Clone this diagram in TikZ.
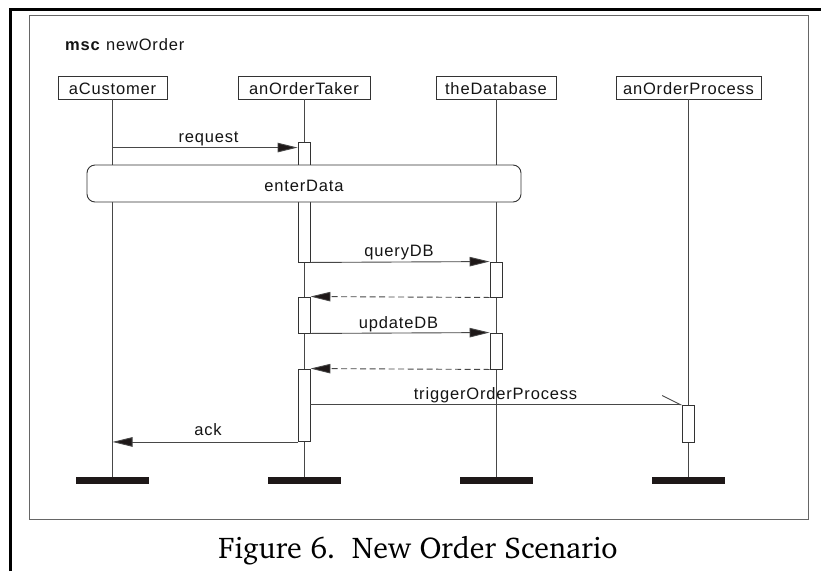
\documentclass[tikz,border=0pt]{standalone}
\usepackage[T1]{fontenc}
\usepackage{fontspec}
\usetikzlibrary{arrows.meta}
\newfontfamily\mscfont{Liberation Sans}[LetterSpace=5.0]
\newcommand\captionfont{\fontencoding{T1}\fontfamily{bch}\fontseries{m}\fontshape{n}\fontsize{30pt}{36pt}\selectfont}
\definecolor{barcol}{RGB}{30,24,24}
\begin{document}
\begin{tikzpicture}[x=1pt,y=-1pt,
  lbl/.style={font={\mscfont\fontsize{16.5pt}{19pt}\selectfont}, text=black!92, inner sep=0pt},
  inst/.style={lbl, draw=black!80, line width=0.9pt, minimum height=23pt, text height=14pt, text depth=0pt},
  life/.style={draw=black!72, line width=0.9pt},
  act/.style={draw=black!80, fill=white, line width=0.9pt, minimum width=12pt, inner sep=0pt},
  endbar/.style={fill=barcol, minimum width=73pt, minimum height=7pt, inner sep=0pt},
  msg/.style={draw=black!72, line width=0.9pt, -{Triangle[length=20pt,width=9.5pt,fill=barcol]}},
  reply/.style={msg, dash pattern=on 6pt off 3.5pt},
  trig/.style={draw=black!72, line width=0.9pt, -{Straight Barb[harpoon,length=18pt,width=18pt,line width=0.9pt]}}
]
\useasboundingbox (0,0) rectangle (821,571);

% outer page frame and the msc frame
\draw[line width=3pt, black, line join=miter] (10,571) -- (10,9) -- (821,9);
\draw[draw=black!60, line width=1pt] (29,15) rectangle (808,519);
\node[lbl, anchor=base west] (title) at (65,50) {\textbf{msc} newOrder};

% instance heads
\node[inst, minimum width=109pt] (cust)  at (112.5,87.5) {aCustomer};
\node[inst, minimum width=132pt] (taker) at (304,87.5)   {anOrderTaker};
\node[inst, minimum width=120pt] (db)    at (496,87.5)   {theDatabase};
\node[inst, minimum width=145pt] (proc)  at (688.5,87.5) {anOrderProcess};

% instance ends
\node[endbar] (custEnd)  at (112.5,480.5) {};
\node[endbar] (takerEnd) at (304,480.5)   {};
\node[endbar] (dbEnd)    at (496,480.5)   {};
\node[endbar] (procEnd)  at (688.5,480.5) {};

% lifelines
\draw[life] (cust.south)  -- (custEnd.north);
\draw[life] (taker.south) -- (takerEnd.north);
\draw[life] (db.south)    -- (dbEnd.north);
\draw[life] (proc.south)  -- (procEnd.north);

% activation bars
\node[act, minimum height=120pt]  (a1) at (304,202)     {};
\node[act, minimum height=36pt]   (a2) at (304,315)     {};
\node[act, minimum height=72.5pt] (a3) at (304,405.25)  {};
\node[act, minimum height=35pt]   (d1) at (496,279.5)   {};
\node[act, minimum height=36pt]   (d2) at (496,351)     {};
\node[act, minimum height=37pt]   (p1) at (688.5,423.5) {};

% reference box
\node[lbl, draw=black!80, fill=white, line width=0.9pt, rounded corners=8pt,
      minimum width=434pt, minimum height=37pt, text height=15pt, text depth=0pt]
      (enter) at (304,183.5) {enterData};

% messages
\coordinate (reqEnd) at ([yshift=-6pt]a1.north west);
\draw[msg]   (cust.south |- reqEnd) -- (reqEnd);
\draw[msg]   (a1.south east) -- (d1.north west);
\draw[reply] (d1.south west) -- (a2.north east);
\draw[msg]   (a2.south east) -- (d2.north west);
\draw[reply] (d2.south west) -- (a3.north east);
\draw[trig]  (a3.east |- p1.north west) -- (p1.north west);
\draw[msg]   (a3.south west) -- (cust.south |- a3.south);

% message labels
\node[lbl, anchor=base] (lreq)   at (208.5,142) {request};
\node[lbl, anchor=base] (lquery) at (399,256)   {queryDB};
\node[lbl, anchor=base] (lupd)   at (398.5,328) {updateDB};
\node[lbl, anchor=base] (ltrig)  at (495.5,399) {triggerOrderProcess};
\node[lbl, anchor=base] (lack)   at (208,435.5) {ack};

% caption
\node[anchor=base, font=\captionfont, text=black, inner sep=0pt] (cap) at (418,558) {Figure 6.\ \ New Order Scenario};
\end{tikzpicture}
\end{document}
